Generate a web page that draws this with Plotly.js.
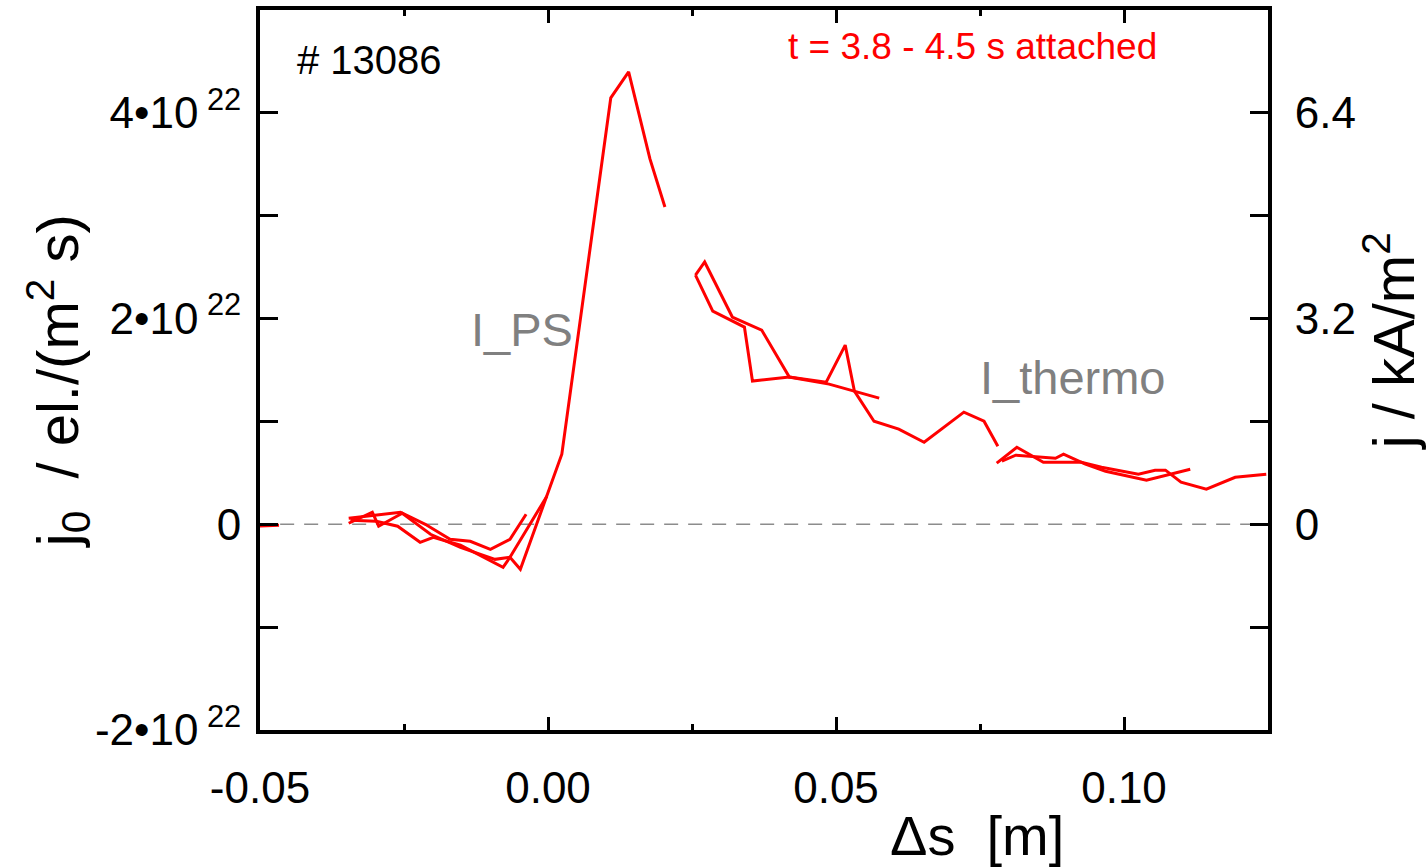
<!DOCTYPE html>
<html>
<head>
<meta charset="utf-8">
<script src="https://cdn.plot.ly/plotly-3.0.1.min.js"></script>
<style>html,body{margin:0;padding:0;background:#fff;}#chart{width:1427px;height:867px;}</style>
</head>
<body>
<div id="chart"></div>
<script>
// values in units of 1e22 el./(m^2 s); x in metres
const edgeX = [-0.0512, -0.0467];
const edgeY = [-0.02, -0.01];

const ps1X = [-0.0346, -0.0305, -0.0256, -0.0213, -0.0170, -0.0135, -0.0100, -0.0066, -0.0038];
const ps1Y = [0.058, 0.088, 0.117, 0.000, -0.146, -0.165, -0.243, -0.146, 0.097];

const ps2X = [-0.0346, -0.0305, -0.0294, -0.0253, -0.0204, -0.0152, -0.0092, -0.0066, -0.0048, -0.0002, 0.0024, 0.0109, 0.0140, 0.0177, 0.0203];
const ps2Y = [0.010, 0.117, -0.019, 0.107, -0.097, -0.224, -0.341, -0.321, -0.438, 0.273, 0.681, 4.146, 4.399, 3.552, 3.085];

const ps3X = [-0.0343, -0.0298, -0.0261, -0.0222, -0.0199, -0.0152, -0.0078, -0.0066, -0.0002];
const ps3Y = [0.039, 0.029, -0.019, -0.175, -0.127, -0.204, -0.418, -0.321, 0.273];

const mid1X = [0.0256, 0.0286, 0.0341, 0.0355, 0.0419, 0.0483, 0.0516, 0.0532, 0.0566, 0.0609, 0.0653, 0.0722, 0.0757, 0.0781];
const mid1Y = [2.423, 2.073, 1.917, 1.392, 1.431, 1.382, 1.742, 1.294, 1.002, 0.925, 0.798, 1.090, 1.002, 0.759];

const mid2X = [0.0256, 0.0272, 0.0320, 0.0371, 0.0419, 0.0488, 0.0575];
const mid2Y = [2.423, 2.550, 2.015, 1.888, 1.431, 1.363, 1.226];

const th1X = [0.0779, 0.0814, 0.0860, 0.0926, 0.0961, 0.1025, 0.1054, 0.1072, 0.1099, 0.1143, 0.1193, 0.1247];
const th1Y = [0.594, 0.749, 0.603, 0.603, 0.555, 0.487, 0.526, 0.526, 0.409, 0.341, 0.457, 0.487];

const th2X = [0.0788, 0.0812, 0.0881, 0.0895, 0.0933, 0.0968, 0.1039, 0.1115];
const th2Y = [0.613, 0.672, 0.642, 0.681, 0.584, 0.516, 0.428, 0.535];

const leftTickVals = [-2, -1, 0, 1, 2, 3, 4];
const leftTickText = ['-2•10<sup> 22</sup>', '', '0', '', '2•10<sup> 22</sup>', '', '4•10<sup> 22</sup>'];
const rightTickVals = [-3.2, -1.6, 0, 1.6, 3.2, 4.8, 6.4];
const rightTickText = ['', '', '0', '', '3.2', '', '6.4'];
const xTickVals = [-0.05, 0, 0.05, 0.10];
const xTickText = ['-0.05', '0.00', '0.05', '0.10'];

const RED = '#ff0000';
const FONT = 'Liberation Sans, Arial, sans-serif';

function line(x, y) {
  return {x: x, y: y, type: 'scatter', mode: 'lines', line: {color: RED, width: 3}, showlegend: false, hoverinfo: 'skip'};
}

const traces = [
  line(edgeX, edgeY), line(ps1X, ps1Y), line(ps3X, ps3Y), line(ps2X, ps2Y),
  line(mid1X, mid1Y), line(mid2X, mid2Y), line(th1X, th1Y), line(th2X, th2Y),
  {x: [0], y: [0], yaxis: 'y2', type: 'scatter', mode: 'lines', opacity: 0, showlegend: false, hoverinfo: 'skip'}
];

const layout = {
  width: 1427, height: 867,
  margin: {l: 260, r: 159, t: 10, b: 137},
  paper_bgcolor: '#fff', plot_bgcolor: '#fff',
  font: {family: FONT, color: '#000', size: 44},
  showlegend: false,
  xaxis: {
    range: [-0.05, 0.125], showgrid: false, zeroline: false,
    showline: true, linecolor: '#000', linewidth: 4, mirror: 'ticks',
    ticks: 'inside', ticklen: 13, tickwidth: 3, tickcolor: '#000',
    tickvals: xTickVals, ticktext: xTickText,
    tickfont: {size: 44, family: FONT}, ticklabelstandoff: 16,
    minor: {tickvals: [-0.025, 0.025, 0.075, 0.125], ticks: 'inside', ticklen: 6, tickwidth: 3, tickcolor: '#000'}
  },
  yaxis: {
    range: [-2, 5], showgrid: false, zeroline: false,
    showline: true, linecolor: '#000', linewidth: 4, mirror: false,
    ticks: 'inside', ticklen: 18, tickwidth: 3, tickcolor: '#000',
    tickvals: leftTickVals, ticktext: leftTickText,
    tickfont: {size: 44, family: FONT}, ticklabelstandoff: 6
  },
  yaxis2: {
    overlaying: 'y', side: 'right', anchor: 'x',
    range: [-3.2, 8], showgrid: false, zeroline: false,
    showline: true, linecolor: '#000', linewidth: 4,
    ticks: 'inside', ticklen: 18, tickwidth: 3, tickcolor: '#000',
    tickvals: rightTickVals, ticktext: rightTickText,
    tickfont: {size: 44, family: FONT}, ticklabelstandoff: 14
  },
  shapes: [
    {type: 'line', xref: 'paper', yref: 'y', x0: 0.02, x1: 0.985, y0: 0, y1: 0,
     line: {color: '#8c8c8c', width: 1.5, dash: '14px,10px'}, layer: 'below'}
  ],
  annotations: [
    {xref: 'paper', yref: 'paper', x: 0.0345, y: 0.93, xanchor: 'left', yanchor: 'middle',
     text: '# 13086', showarrow: false, font: {size: 40, color: '#000', family: FONT}},
    {xref: 'paper', yref: 'paper', x: 0.522, y: 0.95, xanchor: 'left', yanchor: 'middle',
     text: 't = 3.8 - 4.5 s attached', showarrow: false, font: {size: 37, color: RED, family: FONT}},
    {xref: 'paper', yref: 'paper', x: 0.207, y: 0.556, xanchor: 'left', yanchor: 'middle',
     text: 'I_PS', showarrow: false, font: {size: 47, color: '#808080', family: FONT}},
    {xref: 'paper', yref: 'paper', x: 0.712, y: 0.49, xanchor: 'left', yanchor: 'middle',
     text: 'I_thermo', showarrow: false, font: {size: 47, color: '#808080', family: FONT}},
    {xref: 'paper', yref: 'paper', x: 0.711, y: -0.146, xanchor: 'center', yanchor: 'middle',
     text: 'Δs  [m]', showarrow: false, font: {size: 56, color: '#000', family: FONT}},
    {xref: 'paper', yref: 'paper', x: -0.2, y: 0.485, xanchor: 'center', yanchor: 'middle', textangle: -90,
     text: 'j<sub>0</sub>  / el./(m<sup>2</sup> s)', showarrow: false, font: {size: 58, color: '#000', family: FONT}},
    {xref: 'paper', yref: 'paper', x: 1.12, y: 0.54, xanchor: 'center', yanchor: 'middle', textangle: -90,
     text: 'j / kA/m<sup>2</sup>', showarrow: false, font: {size: 58, color: '#000', family: FONT}}
  ]
};

Plotly.newPlot('chart', traces, layout, {displayModeBar: false, staticPlot: true});
</script>
</body>
</html>
